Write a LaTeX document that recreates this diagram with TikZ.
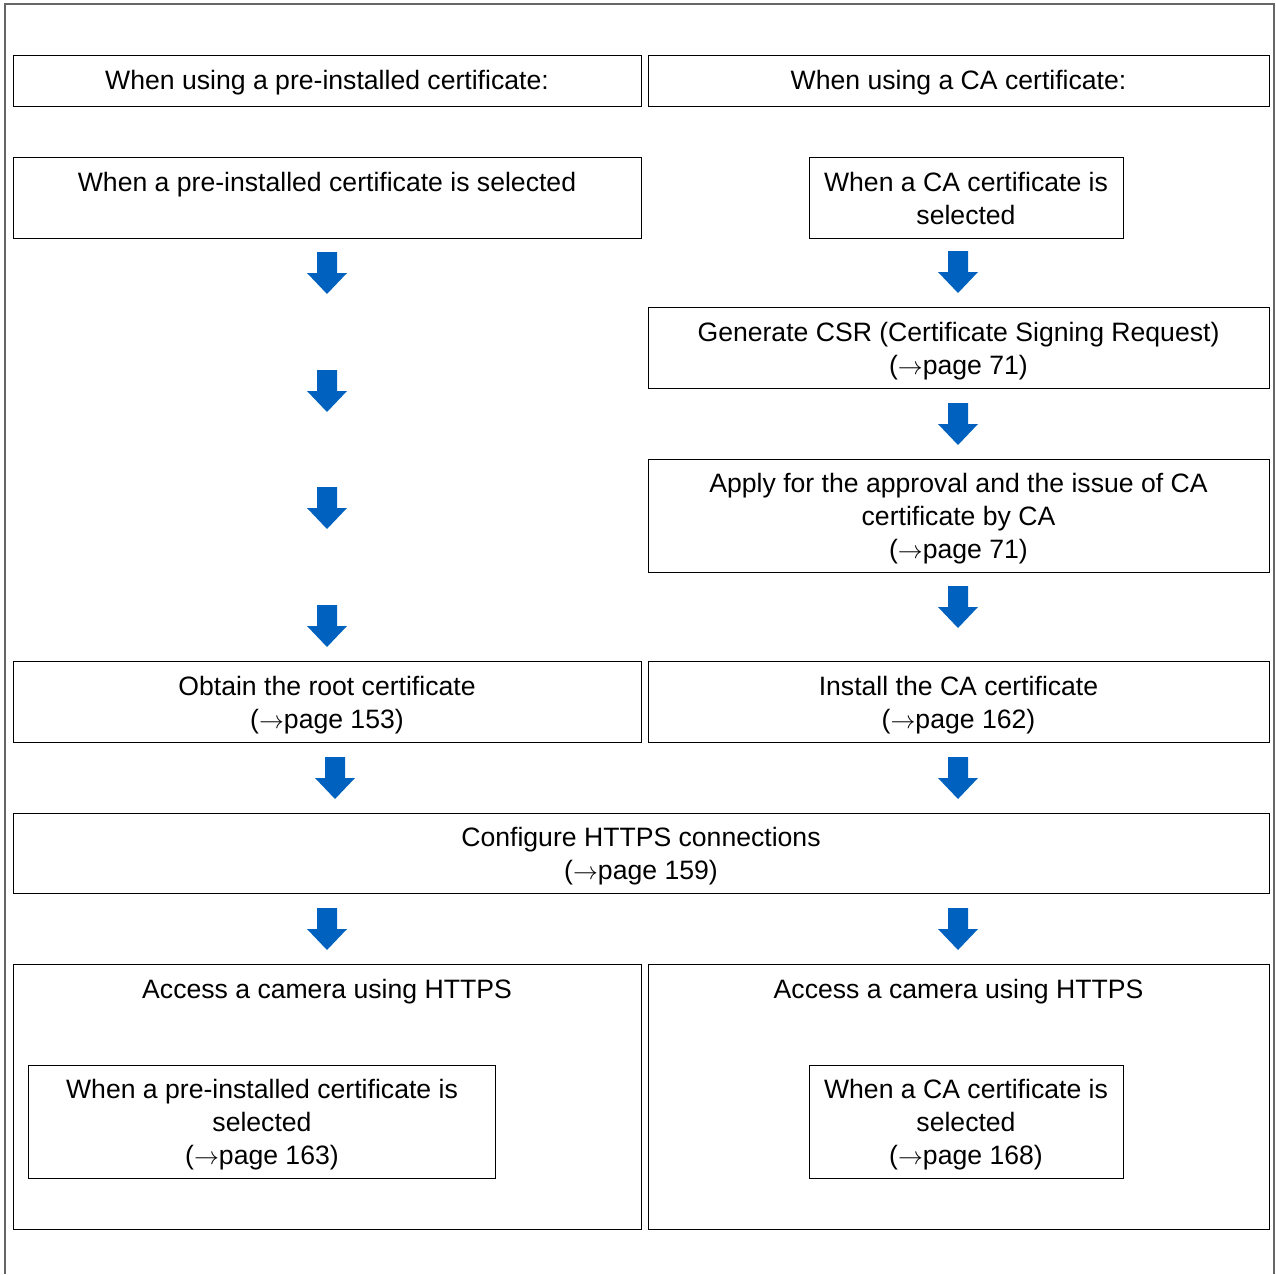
\documentclass[tikz,border=0pt]{standalone}
\usepackage{fontspec}
\setmainfont{Liberation Sans}
\begin{document}
\begin{tikzpicture}[x=1pt,y=-1pt,
  box/.style={draw=black,line width=1.2pt,inner sep=0pt,anchor=north west},
  txt/.style={align=center,inner sep=0pt,font=\fontsize{26.6}{33}\selectfont},
  frame/.style={draw=black!60,line width=1.3pt},
  barrow/.style={fill=arrowblue,draw=none}]
\definecolor{arrowblue}{RGB}{0,98,190}
\useasboundingbox (0,0) rectangle (1276,1274);
% outer frame
\coordinate (f1) at (5,1274);
\coordinate (f2) at (5,4);
\coordinate (f3) at (1274,4);
\coordinate (f4) at (1274,1274);
\draw[frame] (f1) -- (f2) -- (f3) -- (f4);
% block arrow macro
\newcommand\blkarrow[2]{\fill[arrowblue] (#1-10,#2) -- (#1+10,#2) -- (#1+10,#2+21) -- (#1+20,#2+21) -- (#1,#2+42) -- (#1-20,#2+21) -- (#1-10,#2+21) -- cycle;}
% boxes
\node[box,minimum width=628pt,minimum height=51pt] (b1) at (13,55) {};
\node[txt] (t1) at (327,83) {When using a pre-installed certificate:};
\node[box,minimum width=621pt,minimum height=51pt] (b2) at (648,55) {};
\node[txt] (t2) at (958.5,83) {When using a CA certificate:};
\node[box,minimum width=628pt,minimum height=81pt] (b3) at (13,157) {};
\node[txt] (t3) at (327,185) {When a pre-installed certificate is selected};
\node[box,minimum width=314pt,minimum height=81pt] (b4) at (809,157) {};
\node[txt] (t4) at (966,198) {When a CA certificate is\\selected};
\node[box,minimum width=621pt,minimum height=81pt] (b5) at (648,307) {};
\node[txt] (t5) at (958.5,351.5) {Generate CSR (Certificate Signing Request)\\($\rightarrow$page 71)};
\node[box,minimum width=621pt,minimum height=113pt] (b6) at (648,459) {};
\node[txt] (t6) at (958.5,519) {Apply for the approval and the issue of CA\\certificate by CA\\($\rightarrow$page 71)};
\node[box,minimum width=628pt,minimum height=81pt] (b7) at (13,661) {};
\node[txt] (t7) at (327,705.5) {Obtain the root certificate\\($\rightarrow$page 153)};
\node[box,minimum width=621pt,minimum height=81pt] (b8) at (648,661) {};
\node[txt] (t8) at (958.5,705.5) {Install the CA certificate\\($\rightarrow$page 162)};
\node[box,minimum width=1256pt,minimum height=80pt] (b9) at (13,813) {};
\node[txt] (t9) at (641,856.5) {Configure HTTPS connections\\($\rightarrow$page 159)};
\node[box,minimum width=628pt,minimum height=265pt] (b10) at (13,964) {};
\node[txt] (t10) at (327,992) {Access a camera using HTTPS};
\node[box,minimum width=467pt,minimum height=113pt] (b12) at (28,1065) {};
\node[txt] (t12) at (262,1125) {When a pre-installed certificate is\\selected\\($\rightarrow$page 163)};
\node[box,minimum width=621pt,minimum height=265pt] (b11) at (648,964) {};
\node[txt] (t11) at (958.5,992) {Access a camera using HTTPS};
\node[box,minimum width=314pt,minimum height=113pt] (b13) at (809,1065) {};
\node[txt] (t13) at (966,1125) {When a CA certificate is\\selected\\($\rightarrow$page 168)};
% arrows
\blkarrow{327}{252}
\blkarrow{327}{370}
\blkarrow{327}{487}
\blkarrow{327}{605}
\blkarrow{958}{251}
\blkarrow{958}{403}
\blkarrow{958}{586}
\blkarrow{335}{757}
\blkarrow{958}{757}
\blkarrow{327}{908}
\blkarrow{958}{908}
\end{tikzpicture}
\end{document}
